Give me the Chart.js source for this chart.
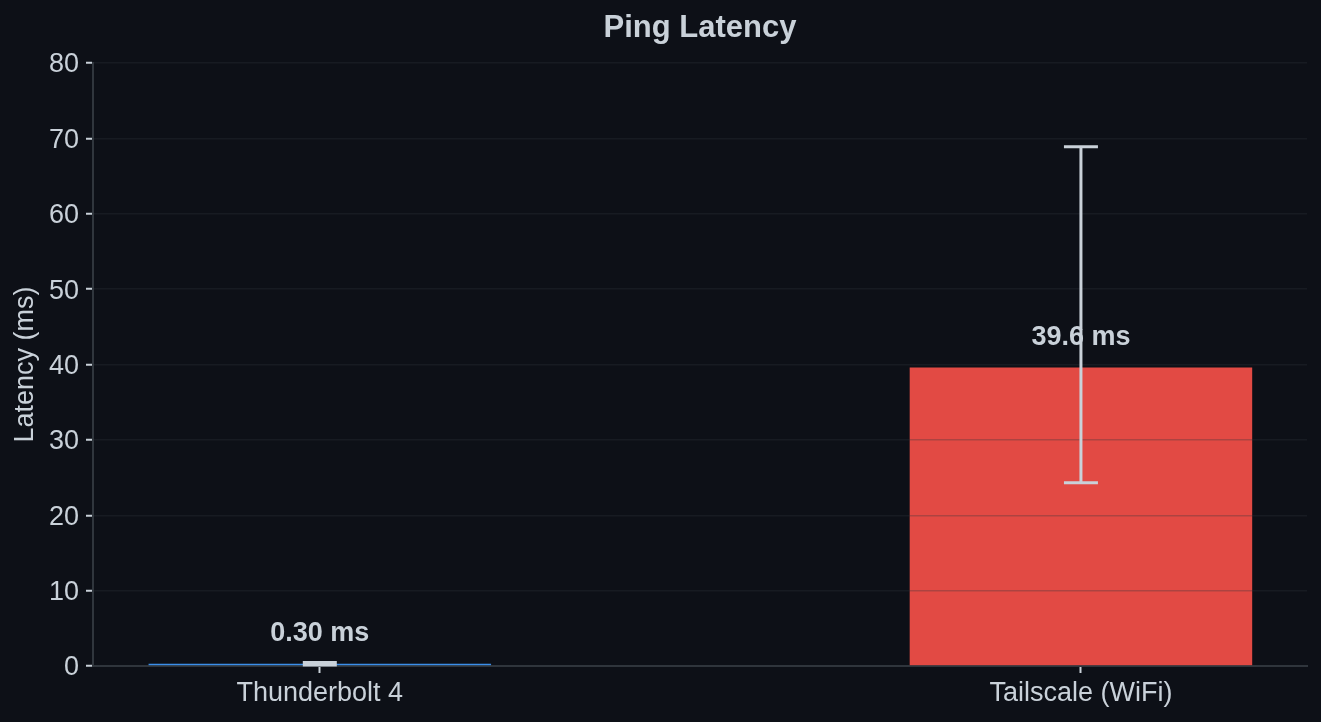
<!DOCTYPE html>
<html>
<head>
<meta charset="utf-8">
<script src="https://cdn.jsdelivr.net/npm/chart.js@4.4.1/dist/chart.umd.min.js"></script>
<style>
    html, body { margin: 0; padding: 0; background: #0d1017; }
    #wrap { width: 1321px; height: 722px; }
</style>
</head>
<body>
<div id="wrap"><canvas id="latencyChart"></canvas></div>
<script>
// Data
const LABELS = ['Thunderbolt 4', 'Tailscale (WiFi)'];
const LATENCY = [0.30, 39.6];
const ERR_LOW = [0.12, 24.3];
const ERR_HIGH = [0.48, 68.9];
const VALUE_TEXT = ['0.30 ms', '39.6 ms'];
const BAR_COLORS = ['#3b8eea', '#e24a44'];
const Y_TICKS = [0, 10, 20, 30, 40, 50, 60, 70, 80];
const TITLE = 'Ping Latency';

const TEXT_COLOR = '#c9d1d9';
const FONT = "'Liberation Sans', Arial, sans-serif";

// ======================
// Plugins
// ======================

const background = {
    id: 'background',
    beforeDraw(chart) {
        const ctx = chart.ctx;
        ctx.save();
        ctx.fillStyle = '#0d1017';
        ctx.fillRect(0, 0, chart.width, chart.height);
        ctx.restore();
    }
};

// title centred on the plot area, value labels, then error bars over them
const labelsAndErrors = {
    id: 'labelsAndErrors',
    afterDraw(chart) {
        const ctx = chart.ctx;
        const area = chart.chartArea;
        const x = chart.scales.x;
        const y = chart.scales.y;

        ctx.save();
        ctx.fillStyle = TEXT_COLOR;
        ctx.textAlign = 'center';
        ctx.textBaseline = 'middle';

        ctx.font = `bold 31px ${FONT}`;
        ctx.fillText(TITLE, (area.left + area.right) / 2, 28.5);

        ctx.font = `bold 27px ${FONT}`;
        LATENCY.forEach((v, i) => {
            ctx.fillText(VALUE_TEXT[i], x.getPixelForValue(i), y.getPixelForValue(v) - 30);
        });

        ctx.strokeStyle = TEXT_COLOR;
        ctx.lineWidth = 3;
        LATENCY.forEach((v, i) => {
            const cx = x.getPixelForValue(i);
            const top = y.getPixelForValue(ERR_HIGH[i]);
            const bot = y.getPixelForValue(ERR_LOW[i]);
            ctx.beginPath();
            ctx.moveTo(cx, top);
            ctx.lineTo(cx, bot);
            ctx.moveTo(cx - 17, top);
            ctx.lineTo(cx + 17, top);
            ctx.moveTo(cx - 17, bot);
            ctx.lineTo(cx + 17, bot);
            ctx.stroke();
        });
        ctx.restore();
    }
};

// ======================
// Chart
// ======================

new Chart(document.getElementById('latencyChart'), {
    type: 'bar',
    data: {
        datasets: [{
            data: LATENCY.map((v, i) => ({ x: i, y: v })),
            backgroundColor: BAR_COLORS,
            borderWidth: 0,
            categoryPercentage: 1,
            barPercentage: 0.45
        }]
    },
    options: {
        responsive: true,
        maintainAspectRatio: false,
        animation: false,
        layout: { padding: { left: 0, right: 14, top: 63, bottom: 0 } },
        plugins: {
            legend: { display: false },
            tooltip: { enabled: false },
            title: { display: false }
        },
        scales: {
            x: {
                type: 'linear',
                offset: false,
                min: -0.298,
                max: 1.297,
                afterBuildTicks: (scale) => {
                    scale.ticks = LABELS.map((_, i) => ({ value: i }));
                },
                afterFit: (scale) => { scale.height = 56; },
                ticks: {
                    color: TEXT_COLOR,
                    font: { family: FONT, size: 27 },
                    padding: 4,
                    maxRotation: 0,
                    autoSkip: false,
                    callback: (v) => LABELS[v] ?? ''
                },
                grid: {
                    offset: false,
                    drawOnChartArea: false,
                    drawTicks: true,
                    tickLength: 7,
                    tickColor: TEXT_COLOR,
                    tickWidth: 2
                },
                border: { color: '#30363d', width: 2 }
            },
            y: {
                min: 0,
                max: 80,
                afterBuildTicks: (scale) => {
                    scale.ticks = Y_TICKS.map(v => ({ value: v }));
                },
                afterFit: (scale) => { scale.width = 93; },
                ticks: {
                    color: TEXT_COLOR,
                    font: { family: FONT, size: 27 },
                    padding: 7,
                    labelOffset: 2
                },
                // grid over the bars, border after grid on the same layer
                grid: {
                    z: 1,
                    color: 'rgba(48,54,61,0.3)',
                    lineWidth: 1.5,
                    drawTicks: true,
                    tickLength: 7,
                    tickColor: TEXT_COLOR,
                    tickWidth: 2
                },
                border: { color: '#30363d', width: 2, z: 1 },
                title: {
                    display: true,
                    text: 'Latency (ms)',
                    color: TEXT_COLOR,
                    font: { family: FONT, size: 27 },
                    padding: { top: 9, bottom: 0 }
                }
            }
        }
    },
    plugins: [background, labelsAndErrors]
});
</script>
</body>
</html>
